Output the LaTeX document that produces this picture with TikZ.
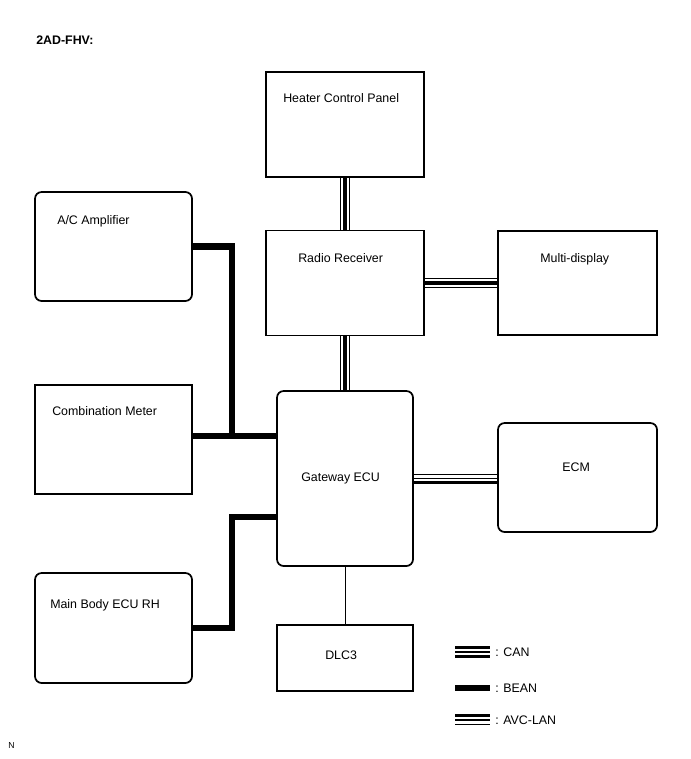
\documentclass[tikz,border=0pt]{standalone}
\usepackage{fontspec}
\setmainfont{Liberation Sans}
\usetikzlibrary{positioning}
\begin{document}
\begin{tikzpicture}[x=0.75pt,y=0.75pt,yscale=-1,xscale=1,
    box/.style={draw, line width=1.3pt, inner sep=0pt},
    rbox/.style={box, rounded corners=5pt},
    lbl/.style={anchor=north west, inner sep=0.75pt, font=\fontsize{9.3}{10}\selectfont},
    bean/.style={line width=5.2pt},
    thk/.style={line width=2.4pt},
    thn/.style={line width=0.8pt}]
  %set diagram bounds
  \useasboundingbox (0,0) rectangle (690,759);

  %Boxes
  \node [box, minimum width=118.5pt, minimum height=78.75pt] (hcp) at (345,124.5) {};
  \node [box, minimum width=118.5pt, minimum height=78.75pt] (radio) at (345,283) {};
  \node [box, minimum width=119.25pt, minimum height=78pt] (multi) at (577.5,283) {};
  \node [rbox, minimum width=117.75pt, minimum height=81.75pt] (aca) at (113.5,246.5) {};
  \node [box, minimum width=117.75pt, minimum height=81.75pt] (meter) at (113.5,439.5) {};
  \node [rbox, minimum width=102pt, minimum height=131.25pt] (gw) at (345,478.5) {};
  \node [rbox, minimum width=119.25pt, minimum height=81.75pt] (ecm) at (577.5,477.5) {};
  \node [rbox, minimum width=117.75pt, minimum height=82.5pt] (body) at (113.5,628) {};
  \node [box, minimum width=102pt, minimum height=49.5pt] (dlc) at (345,658) {};

  % Text Nodes
  \node [lbl] (thcp) at (282,92) {Heater Control Panel};
  \node [lbl] (tradio) at (297,252) {Radio Receiver};
  \node [lbl] (tmulti) at (539,252) {Multi-display};
  \node [lbl] (taca) at (56,214) {A/C Amplifier};
  \node [lbl] (tmeter) at (51,405) {Combination Meter};
  \node [lbl] (tgw) at (300,472) {Gateway ECU};
  \node [lbl] (tecm) at (561,462) {ECM};
  \node [lbl] (tbody) at (49,598) {Main Body ECU RH};
  \node [lbl] (tdlc) at (324,650) {DLC3};
  \node [lbl, font=\fontsize{9.3}{10}\selectfont\bfseries] (title) at (35,35) {2AD-FHV:};
  \node [lbl, font=\fontsize{6.5}{7}\selectfont] (tn) at (7,741) {N};

  %AVC-LAN vertical
  \foreach \a/\b in {hcp/radio, radio/gw} {
    \draw [thn, transform canvas={xshift=-3.2pt}] (\a.south) -- (\b.north);
    \draw [thk, transform canvas={xshift=0pt}] (\a.south) -- (\b.north);
    \draw [thn, transform canvas={xshift=3.2pt}] (\a.south) -- (\b.north);
  }
  %AVC-LAN horizontal
  \draw [thn, transform canvas={yshift=-3.2pt}] (radio.east) -- (multi.west);
  \draw [thk] (radio.east) -- (multi.west);
  \draw [thn, transform canvas={yshift=3.2pt}] (radio.east) -- (multi.west);
  %CAN
  \draw [thk, transform canvas={yshift=-3.2pt}] (gw.east) -- (gw.east -| ecm.west);
  \draw [thn] (gw.east) -- (gw.east -| ecm.west);
  \draw [thn, transform canvas={yshift=3.2pt}] (gw.east) -- (gw.east -| ecm.west);

  %BEAN
  \coordinate (jb) at (232,436);
  \draw [bean] (aca.east) -| (jb);
  \draw [bean] (meter.east |- jb) -- (jb -| gw.west);
  \draw [bean] (body.east) -| (232,517) -- (gw.west |- 0,517);
  %DLC3
  \draw [line width=0.6pt] (gw.south) -- (dlc.north);

  %Legend
  \coordinate (lc) at (455,652);
  \coordinate (lb) at (455,688);
  \coordinate (la) at (455,720);
  \draw [thk, transform canvas={yshift=-3.2pt}] (lc) -- +(35,0);
  \draw [thn] (lc) -- +(35,0);
  \draw [thk, transform canvas={yshift=3.2pt}] (lc) -- +(35,0);
  \draw [bean] (lb) -- +(35,0);
  \draw [thn, transform canvas={yshift=-3.2pt}] (la) -- +(35,0);
  \draw [thn] (la) -- +(35,0);
  \draw [thk, transform canvas={yshift=3.2pt}] (la) -- +(35,0);
  \node [lbl, anchor=west] (tcan) at (494,652) {: CAN};
  \node [lbl, anchor=west] (tbean) at (494,688) {: BEAN};
  \node [lbl, anchor=west] (tavc) at (494,720) {: AVC-LAN};
\end{tikzpicture}
\end{document}
